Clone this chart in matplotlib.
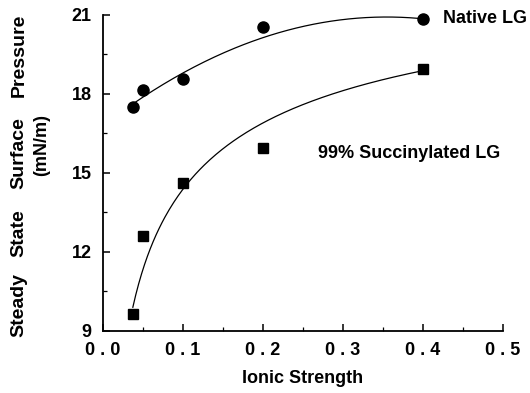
import numpy as np
import matplotlib
matplotlib.use("Agg")
import matplotlib.pyplot as plt
from matplotlib.ticker import MultipleLocator, FixedLocator

# ionic strength vs steady state surface pressure (mN/m)
native_x = [0.0375, 0.05, 0.1, 0.2, 0.4]
native_y = [17.5, 18.15, 18.55, 20.55, 20.85]
succ_x = [0.0375, 0.05, 0.1, 0.2, 0.4]
succ_y = [9.65, 12.6, 14.63, 15.94, 18.93]

xticks = [0.0, 0.1, 0.2, 0.3, 0.4, 0.5]
xtick_labels = ["0 . 0", "0 . 1", "0 . 2", "0 . 3", "0 . 4", "0 . 5"]
yticks = [9, 12, 15, 18, 21]

plt.rcParams["font.family"] = ["Liberation Sans", "DejaVu Sans"]

fig = plt.figure(figsize=(5.3, 3.93), dpi=100)
ax = fig.add_axes([0.194, 0.158, 0.755, 0.804])

# smooth fitted curves through each data set
xs = np.linspace(native_x[0], native_x[-1], 200)
pn = np.polyfit(native_x, native_y, 2, w=[1, 1, 1, 0.5, 2])
ax.plot(xs, np.polyval(pn, xs), color="black", lw=0.9, clip_on=False)
ps = np.polyfit(np.log(succ_x), succ_y, 2, w=[2, 1, 1, 1, 3])
ax.plot(xs, np.polyval(ps, np.log(xs)), color="black", lw=0.9)

ax.plot(native_x, native_y, "o", color="black", ms=8, clip_on=False)
ax.plot(succ_x, succ_y, "s", color="black", ms=7, clip_on=False)

ax.set_xlim(0, 0.5)
ax.set_ylim(9, 21)
ax.xaxis.set_major_locator(FixedLocator(xticks))
ax.set_xticklabels(xtick_labels)
ax.xaxis.set_minor_locator(MultipleLocator(0.05))
ax.set_yticks(yticks)
ax.yaxis.set_minor_locator(MultipleLocator(1.5))
for s in ["top", "right"]:
    ax.spines[s].set_visible(False)
for s in ["left", "bottom"]:
    ax.spines[s].set_linewidth(1.3)
ax.tick_params(which="major", direction="in", length=5, width=1.1, labelsize=13)
ax.tick_params(which="minor", direction="in", length=3, width=0.9)
ax.tick_params(axis="x", pad=8)
ax.tick_params(axis="y", pad=8)
for lbl in ax.get_xticklabels() + ax.get_yticklabels():
    lbl.set_fontweight("bold")

ax.set_xlabel("Ionic Strength", fontsize=13, fontweight="bold", labelpad=8)

# y label words laid out along the spine like the original
for word, yc in [("Pressure", 55), ("Surface", 153), ("State", 233), ("Steady", 305)]:
    fig.text(19 / 530, 1 - yc / 393, word, rotation=90, ha="center", va="center",
             fontsize=14, fontweight="bold")
fig.text(42 / 530, 1 - 145 / 393, "(mN/m)", rotation=90, ha="center", va="center",
         fontsize=13, fontweight="bold")

ax.text(0.425, 20.85, "Native LG", ha="left", va="center", fontsize=13,
        fontweight="bold")
ax.text(0.269, 15.75, "99% Succinylated LG", ha="left", va="center", fontsize=13,
        fontweight="bold")

fig.savefig("out.png", dpi=100)
